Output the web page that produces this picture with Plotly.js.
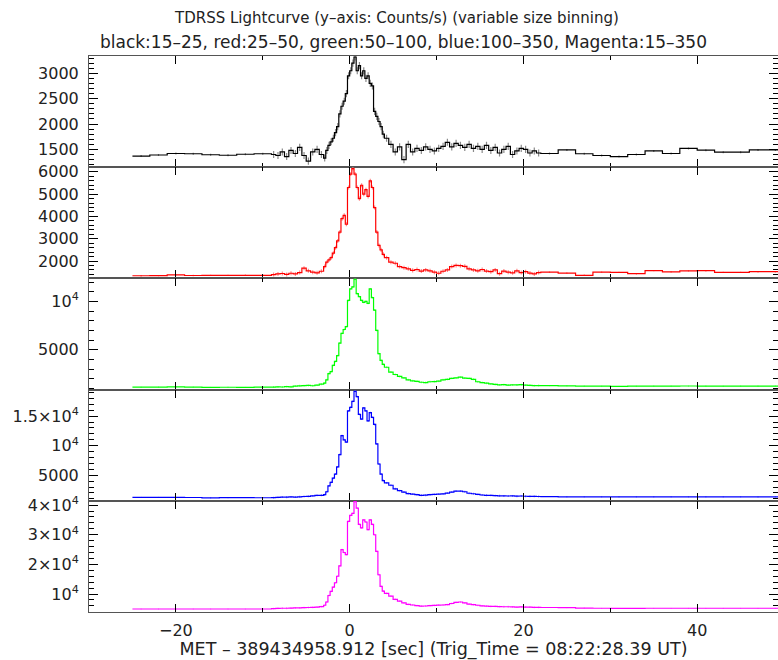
<!DOCTYPE html>
<html><head><meta charset="utf-8">
<script src="https://cdn.plot.ly/plotly-3.0.1.min.js"></script>
<style>html,body{margin:0;padding:0;background:#fff}</style>
</head><body><div id="chart" style="width:778px;height:660px"></div>
<script>
// bin edges (s, relative to trigger), variable size binning
const time = [-25,-23,-21,-19,-17,-15,-13,-11,
  -9,-8.5,-8,-7.5,-7,-6.5,-6,-5.5,-5,-4.5,-4,-3.5,
  -3,-2.75,-2.5,-2.25,-2,-1.75,-1.5,-1.25,-1,-0.75,-0.5,-0.25,0,0.25,0.5,0.75,1,1.25,1.5,1.75,2,2.25,2.5,2.75,3,3.25,3.5,3.75,
  4,4.5,5,5.5,6,6.5,7,7.5,8,8.5,9,9.5,10,10.5,11,11.5,12,12.5,13,13.5,14,14.5,15,15.5,16,16.5,17,17.5,18,18.5,19,19.5,20,20.5,21,21.5,
  22,24,26,28,30,32,34,36,38,40,42,44,46,48,50];

// counts/s per bin
const black = [1370,1390,1420,1415,1395,1385,1405,1415,
  1400,1380,1450,1360,1480,1420,1540,1380,1270,1450,1500,1400,
  1330,1480,1580,1650,1720,1830,1950,2200,2350,2450,2600,2950,3050,3200,3320,3050,3150,2950,3050,2900,2950,2800,2750,2250,2150,2050,1950,1800,
  1720,1600,1450,1550,1300,1600,1450,1520,1480,1550,1500,1470,1520,1560,1640,1550,1620,1580,1540,1600,1520,1560,1500,1580,1480,1540,1430,1500,1560,1400,1470,1520,1500,1430,1470,1430,
  1420,1490,1415,1380,1360,1400,1470,1420,1520,1485,1445,1445,1490,1490];
const red = [1340,1345,1380,1350,1355,1355,1360,1358,
  1390,1420,1440,1400,1450,1420,1480,1680,1560,1500,1470,1540,
  1750,1950,2050,2150,2350,2600,2900,3300,3900,4050,3650,5300,5900,6150,5900,5300,4800,5400,5000,5200,4900,5600,5300,4400,3300,2700,2500,2300,
  2150,1950,1900,1750,1700,1650,1580,1620,1550,1600,1560,1500,1450,1540,1600,1750,1800,1790,1760,1650,1600,1560,1620,1550,1520,1600,1430,1550,1500,1470,1560,1480,1520,1460,1420,1480,
  1500,1460,1360,1500,1490,1430,1570,1510,1560,1565,1490,1490,1520,1520];
const green = [1140,1150,1180,1150,1130,1135,1130,1140,
  1150,1170,1160,1200,1180,1250,1280,1300,1320,1290,1350,1450,
  1550,1900,2550,2750,3400,3800,4400,5700,6700,7100,7400,10100,11300,11500,12300,10800,10500,10100,9900,10000,9800,11300,10400,9100,7000,4600,3900,3500,
  3200,2700,2450,2250,2100,1900,1800,1750,1650,1620,1700,1720,1760,1900,1950,2050,2100,2170,2080,2050,1950,1700,1620,1550,1480,1420,1380,1400,1360,1380,1370,1400,1350,1330,1300,1310,
  1300,1280,1250,1240,1230,1240,1250,1250,1260,1250,1240,1250,1250,1250];
const blue = [1250,1250,1240,1230,1180,1200,1220,1190,
  1200,1250,1300,1280,1320,1300,1350,1400,1420,1500,1580,1600,
  1700,2200,3200,3800,4500,5200,6400,8500,11700,11000,10600,15900,16500,17500,19200,18300,15300,14500,16400,15900,14200,15600,14800,13600,10300,6900,5200,4100,
  3700,3300,2700,2400,2150,1900,1800,1700,1600,1620,1700,1750,1800,1850,1970,2150,2300,2310,2200,1950,1860,1750,1650,1600,1580,1550,1520,1500,1480,1500,1450,1480,1440,1420,1410,1400,
  1380,1350,1340,1340,1340,1340,1340,1340,1340,1340,1340,1340,1320,1340];
const magenta = [4950,4950,4950,4950,4950,4950,4950,4950,
  5100,5150,5200,5200,5250,5300,5350,5400,5450,5500,5600,5750,
  6200,7300,9500,10900,12300,13800,16000,19500,25000,24000,23300,34500,36500,37200,41200,39000,33500,32300,35000,34300,31700,35000,33500,30000,24400,16500,12600,11000,
  10200,9300,8200,7600,7000,6500,6300,6100,5900,5950,6100,6150,6250,6300,6450,6800,7200,7300,7000,6600,6400,6200,6000,5900,5850,5800,5750,5700,5700,5650,5600,5650,5600,5550,5520,5500,
  5450,5400,5250,5200,5150,5150,5200,5200,5200,5200,5200,5200,5200,5200];

// 1-sigma errors (fine bins, coarse bins)
const blackErr = [70, 20];
const redErr = [90, 30];
const greenErr = [100, 40];
const blueErr = [160, 60];
const magentaErr = [300, 100];

// tick values / labels
const xTickVals = [-20, 0, 20, 40];
const blackTicks = [1500, 2000, 2500, 3000];
const blackTickText = ['1500', '2000', '2500', '3000'];
const redTicks = [2000, 3000, 4000, 5000, 6000];
const redTickText = ['2000', '3000', '4000', '5000', '6000'];
const greenTicks = [5000, 10000];
const greenTickText = ['5000', '10<sup>4</sup>'];
const blueTicks = [5000, 10000, 15000];
const blueTickText = ['5000', '10<sup>4</sup>', '1.5×10<sup>4</sup>'];
const magentaTicks = [10000, 20000, 30000, 40000];
const magentaTickText = ['10<sup>4</sup>', '2×10<sup>4</sup>', '3×10<sup>4</sup>', '4×10<sup>4</sup>'];

const FONT = 'DejaVu Sans';
const TXT = '#222';
const panels = [
  {y: black, err: blackErr, color: '#000000', ecol: '#8a8a8a', range: [1150, 3340], tv: blackTicks, tt: blackTickText, minor: 100},
  {y: red, err: redErr, color: '#ff0000', ecol: '#ff8c8c', range: [1220, 6210], tv: redTicks, tt: redTickText, minor: 200},
  {y: green, err: greenErr, color: '#00ff00', ecol: '#9cff9c', range: [890, 12380], tv: greenTicks, tt: greenTickText, minor: 1000},
  {y: blue, err: blueErr, color: '#0000ff', ecol: '#8c8cff', range: [670, 19500], tv: blueTicks, tt: blueTickText, minor: 1000},
  {y: magenta, err: magentaErr, color: '#ff00ff', ecol: '#ff9cff', range: [3930, 41450], tv: magentaTicks, tt: magentaTickText, minor: 2000}
];

const centers = [], widths = [];
for (let i = 0; i < time.length - 1; i++) {
  centers.push((time[i] + time[i + 1]) / 2);
  widths.push(time[i + 1] - time[i]);
}

const traces = [];
const layout = {
  width: 778, height: 660,
  margin: {l: 89, r: 0, t: 56, b: 48},
  paper_bgcolor: '#ffffff', plot_bgcolor: '#ffffff',
  showlegend: false,
  font: {family: FONT, size: 16, color: TXT},
  annotations: [
    {text: 'TDRSS Lightcurve (y–axis: Counts/s) (variable size binning)', xref: 'paper', yref: 'paper',
     x: 0.447, y: 1.068, xanchor: 'center', yanchor: 'middle', showarrow: false, font: {family: FONT, size: 15, color: TXT}},
    {text: 'black:15–25, red:25–50, green:50–100, blue:100–350, Magenta:15–350', xref: 'paper', yref: 'paper',
     x: 0.457, y: 1.025, xanchor: 'center', yanchor: 'middle', showarrow: false, font: {family: FONT, size: 17, color: TXT}}
  ]
};

panels.forEach((p, i) => {
  const n = i + 1;
  const xa = n === 1 ? 'x' : 'x' + n;
  const ya = n === 1 ? 'y' : 'y' + n;
  const errs = widths.map(w => w > 1 ? p.err[1] : p.err[0]);
  traces.push({
    x: centers, y: p.y, xaxis: xa, yaxis: ya, type: 'scatter', mode: 'markers',
    marker: {size: 1, color: p.ecol},
    error_y: {type: 'data', array: errs, visible: true, color: p.ecol, thickness: 1.2, width: 0},
    hoverinfo: 'skip'
  });
  traces.push({
    x: time, y: p.y.concat([p.y[p.y.length - 1]]), xaxis: xa, yaxis: ya, type: 'scatter', mode: 'lines',
    line: {shape: 'hv', color: p.color, width: 1.2}, hoverinfo: 'skip'
  });
  const top = 1 - i * 0.2, bot = 1 - (i + 1) * 0.2;
  const isBottom = i === 4;
  const xax = {
    domain: [0, 1], anchor: ya, range: [-30, 49.3],
    showline: true, linecolor: '#555', linewidth: 1, mirror: 'ticks',
    ticks: 'inside', ticklen: 8, tickcolor: '#000', tickwidth: 1,
    tickmode: 'array', tickvals: xTickVals,
    minor: {tickmode: 'linear', tick0: 0, dtick: 10, ticks: 'inside', ticklen: 4, tickcolor: '#000'},
    showgrid: false, zeroline: false,
    showticklabels: isBottom, ticklabelstandoff: 4,
    tickfont: {family: FONT, size: 16, color: TXT}
  };
  if (n !== 1) xax.matches = 'x';
  if (isBottom) xax.title = {text: 'MET – 389434958.912 [sec] (Trig_Time = 08:22:28.39 UT)', standoff: 3,
                             font: {family: FONT, size: 17.5, color: TXT}};
  layout[n === 1 ? 'xaxis' : 'xaxis' + n] = xax;
  layout[n === 1 ? 'yaxis' : 'yaxis' + n] = {
    domain: [bot, top], anchor: xa, range: p.range,
    showline: true, linecolor: '#555', linewidth: 1, mirror: 'ticks',
    ticks: 'inside', ticklen: 9, tickcolor: '#000', tickwidth: 1,
    tickmode: 'array', tickvals: p.tv, ticktext: p.tt,
    minor: {tickmode: 'linear', tick0: 0, dtick: p.minor, ticks: 'inside', ticklen: 5, tickcolor: '#000'},
    showgrid: false, zeroline: false, ticklabelstandoff: 6,
    tickfont: {family: FONT, size: 16, color: TXT}
  };
});

Plotly.newPlot('chart', traces, layout, {displayModeBar: false, staticPlot: true});
</script>
</body></html>
